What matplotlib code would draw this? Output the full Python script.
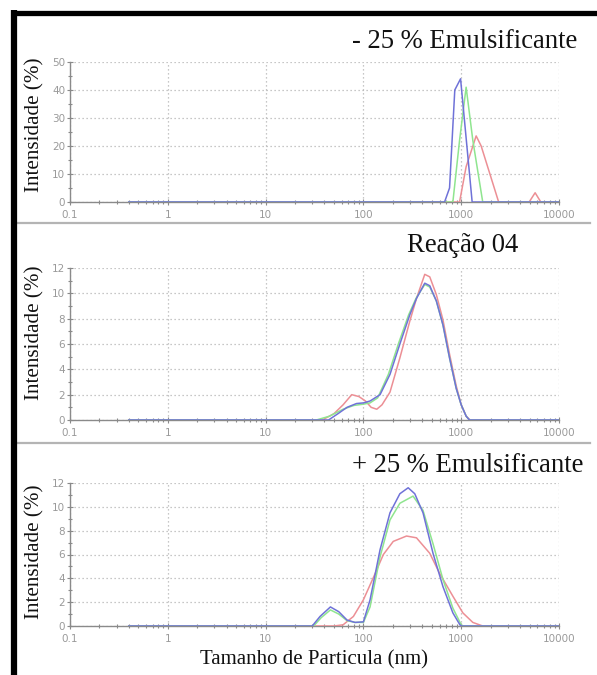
import matplotlib
matplotlib.use("Agg")
import matplotlib.pyplot as plt
from matplotlib.lines import Line2D
from matplotlib.ticker import FixedLocator, NullFormatter

# ---------------- data ----------------
titles = ["- 25 % Emulsificante", "Reação 04", "+ 25 % Emulsificante"]
ylabel = "Intensidade (%)"
xlabel = "Tamanho de Particula (nm)"
xtick_vals = [0.1, 1, 10, 100, 1000, 10000]
xtick_labels = ["0.1", "1", "10", "100", "1000", "10000"]
ymax = [50, 12, 12]
ystep = [10, 2, 2]

# panel 1 (- 25 % Emulsificante)
p1_blue_x = [0.4, 676, 760, 860, 985, 1294, 10000]
p1_blue_y = [0, 0, 5, 40, 44, 0, 0]
p1_green_x = [0.4, 822, 962, 1123, 1315, 1660, 10000]
p1_green_y = [0, 0, 22, 41, 22, 0, 0]
p1_red_x = [0.4, 962, 1123, 1422, 1600, 2415, 4955, 5700, 6515, 10000]
p1_red_y = [0, 0, 12.6, 23.6, 20, 0, 0, 3.3, 0, 0]

# panel 2 (Reação 04)
p2_blue_x = [0.4, 44, 55, 68, 85, 100, 117, 148, 187, 236, 298, 349, 424, 477,
             557, 651, 760, 889, 1000, 1124, 1216, 10000]
p2_blue_y = [0, 0, 0.5, 1.0, 1.3, 1.35, 1.5, 2.0, 3.6, 6.0, 8.3, 9.6, 10.8, 10.6,
             9.4, 7.5, 4.9, 2.5, 1.2, 0.3, 0, 0]
p2_green_x = [0.4, 33, 45, 62, 80, 100, 117, 140, 180, 230, 290, 345, 424, 477,
              557, 651, 760, 889, 1000, 1124, 1216, 10000]
p2_green_y = [0, 0, 0.3, 0.85, 1.15, 1.25, 1.35, 1.75, 3.6, 6.1, 8.3, 9.6, 10.7, 10.5,
              9.4, 7.5, 4.9, 2.5, 1.2, 0.3, 0, 0]
p2_red_x = [0.4, 38, 50, 62, 76, 90, 105, 120, 137, 155, 187, 236, 298, 349, 424, 477,
            557, 651, 760, 889, 1000, 1124, 1230, 10000]
p2_red_y = [0, 0, 0.5, 1.2, 2.0, 1.85, 1.5, 1.0, 0.85, 1.2, 2.2, 4.9, 7.8, 9.6, 11.5, 11.3,
            9.9, 7.9, 5.2, 2.7, 1.2, 0.3, 0, 0]

# panel 3 (+ 25 % Emulsificante)
p3_blue_x = [0.4, 30, 36, 46, 56, 68, 82, 100, 117, 148, 187, 236, 287, 335,
             407, 515, 651, 822, 970, 1010, 10000]
p3_blue_y = [0, 0, 0.8, 1.6, 1.2, 0.5, 0.3, 0.35, 2.2, 6.4, 9.5, 11.1, 11.6, 11.1,
             9.5, 6.1, 3.3, 1.1, 0.1, 0, 0]
p3_green_x = [0.4, 31, 37, 46, 56, 68, 82, 100, 117, 148, 187, 236, 322, 407,
              515, 651, 822, 1000, 1050, 10000]
p3_green_y = [0, 0, 0.7, 1.35, 1.0, 0.45, 0.3, 0.3, 1.6, 5.8, 8.9, 10.3, 10.9, 9.7,
              6.9, 3.9, 1.5, 0.1, 0, 0]
p3_red_x = [0.4, 50, 62, 79, 100, 127, 160, 202, 276, 349, 477, 603, 822, 1040,
            1315, 1660, 10000]
p3_red_y = [0, 0, 0.1, 0.8, 2.2, 4.1, 6.0, 7.1, 7.55, 7.4, 6.1, 4.4, 2.5, 1.1,
            0.3, 0, 0]

series = [
    [(p1_red_x, p1_red_y), (p1_green_x, p1_green_y), (p1_blue_x, p1_blue_y)],
    [(p2_red_x, p2_red_y), (p2_green_x, p2_green_y), (p2_blue_x, p2_blue_y)],
    [(p3_red_x, p3_red_y), (p3_green_x, p3_green_y), (p3_blue_x, p3_blue_y)],
]
colors = ["#ec8f95", "#8fe58f", "#6f72d8"]

# ---------------- figure ----------------
W, H = 597, 675
fig = plt.figure(figsize=(W / 100, H / 100), dpi=100)
fig.patch.set_facecolor("white")

def fx(px):
    return px / W

def fy(py):
    return 1 - py / H

# axes boxes in pixel coordinates (left, top, right, bottom)
boxes = [(70, 62, 559, 202), (70, 268, 559, 420), (70, 483, 559, 626)]
title_pos = [(577, 42, "right"), (463, 245, "center"), (583, 465, "right")]
ylabel_pos = [125, 333, 552]

serif = ["Liberation Serif", "DejaVu Serif"]
tick_gray = "#9a9a9a"

for i, (l, t, r, b) in enumerate(boxes):
    ax = fig.add_axes([fx(l), fy(b), fx(r) - fx(l), fy(t) - fy(b)])
    ax.set_xscale("log")
    ax.set_xlim(0.1, 10000)
    ax.set_ylim(0, ymax[i])
    for (xs, ys), c in zip(series[i], colors):
        ax.plot(xs, ys, color=c, lw=1.1, solid_joinstyle="round", zorder=3)
    ax.set_xticks(xtick_vals)
    ax.set_xticklabels(xtick_labels)
    ax.xaxis.set_minor_locator(FixedLocator([m * 10.0 ** e for e in range(-1, 4) for m in range(2, 10)]))
    ax.xaxis.set_minor_formatter(NullFormatter())
    yt = list(range(0, ymax[i] + 1, ystep[i]))
    ax.set_yticks(yt)
    ax.yaxis.set_minor_locator(FixedLocator([v + ystep[i] / 2 for v in yt[:-1]]))
    ax.grid(True, which="major", color="#b5b5b5", linestyle=(0, (1.0, 2.2)), lw=0.9)
    for s in ["top", "right"]:
        ax.spines[s].set_visible(False)
    for s in ["left", "bottom"]:
        ax.spines[s].set_color("#8a8a8a")
        ax.spines[s].set_linewidth(1.0)
    ax.tick_params(axis="both", which="major", labelsize=7.5, labelcolor=tick_gray,
                   color="#8a8a8a", direction="inout", length=5, width=0.8)
    ax.tick_params(axis="both", which="minor", color="#8a8a8a", direction="inout",
                   length=3, width=0.8)
    ax.tick_params(axis="x", which="major", pad=3)
    ax.tick_params(axis="y", which="major", pad=1)
    ax.set_facecolor("none")

    tx, ty, ha = title_pos[i]
    fig.text(fx(tx), fy(ty), titles[i], ha=ha, va="center", fontsize=19.2,
             family=serif, color="#111111")
    fig.text(fx(35), fy(ylabel_pos[i]), ylabel, rotation=90, ha="center", va="center",
             fontsize=15.2, family=serif, color="#111111")

fig.text(fx(314), fy(660), xlabel, ha="center", va="center", fontsize=15,
         family=serif, color="#111111")

# separators
for yy in (223, 443):
    fig.add_artist(Line2D([fx(17), fx(590)], [fy(yy), fy(yy)], color="#b4b4b4", lw=1.6))

# black frame (left and top bars)
fig.add_artist(Line2D([fx(14), fx(14)], [fy(10), fy(675)], color="black", lw=4.5,
                      solid_capstyle="butt"))
fig.add_artist(Line2D([fx(11.8), fx(597)], [fy(12.5), fy(12.5)], color="black", lw=3.8,
                      solid_capstyle="butt"))

fig.savefig("out.png", dpi=100, facecolor="white")
